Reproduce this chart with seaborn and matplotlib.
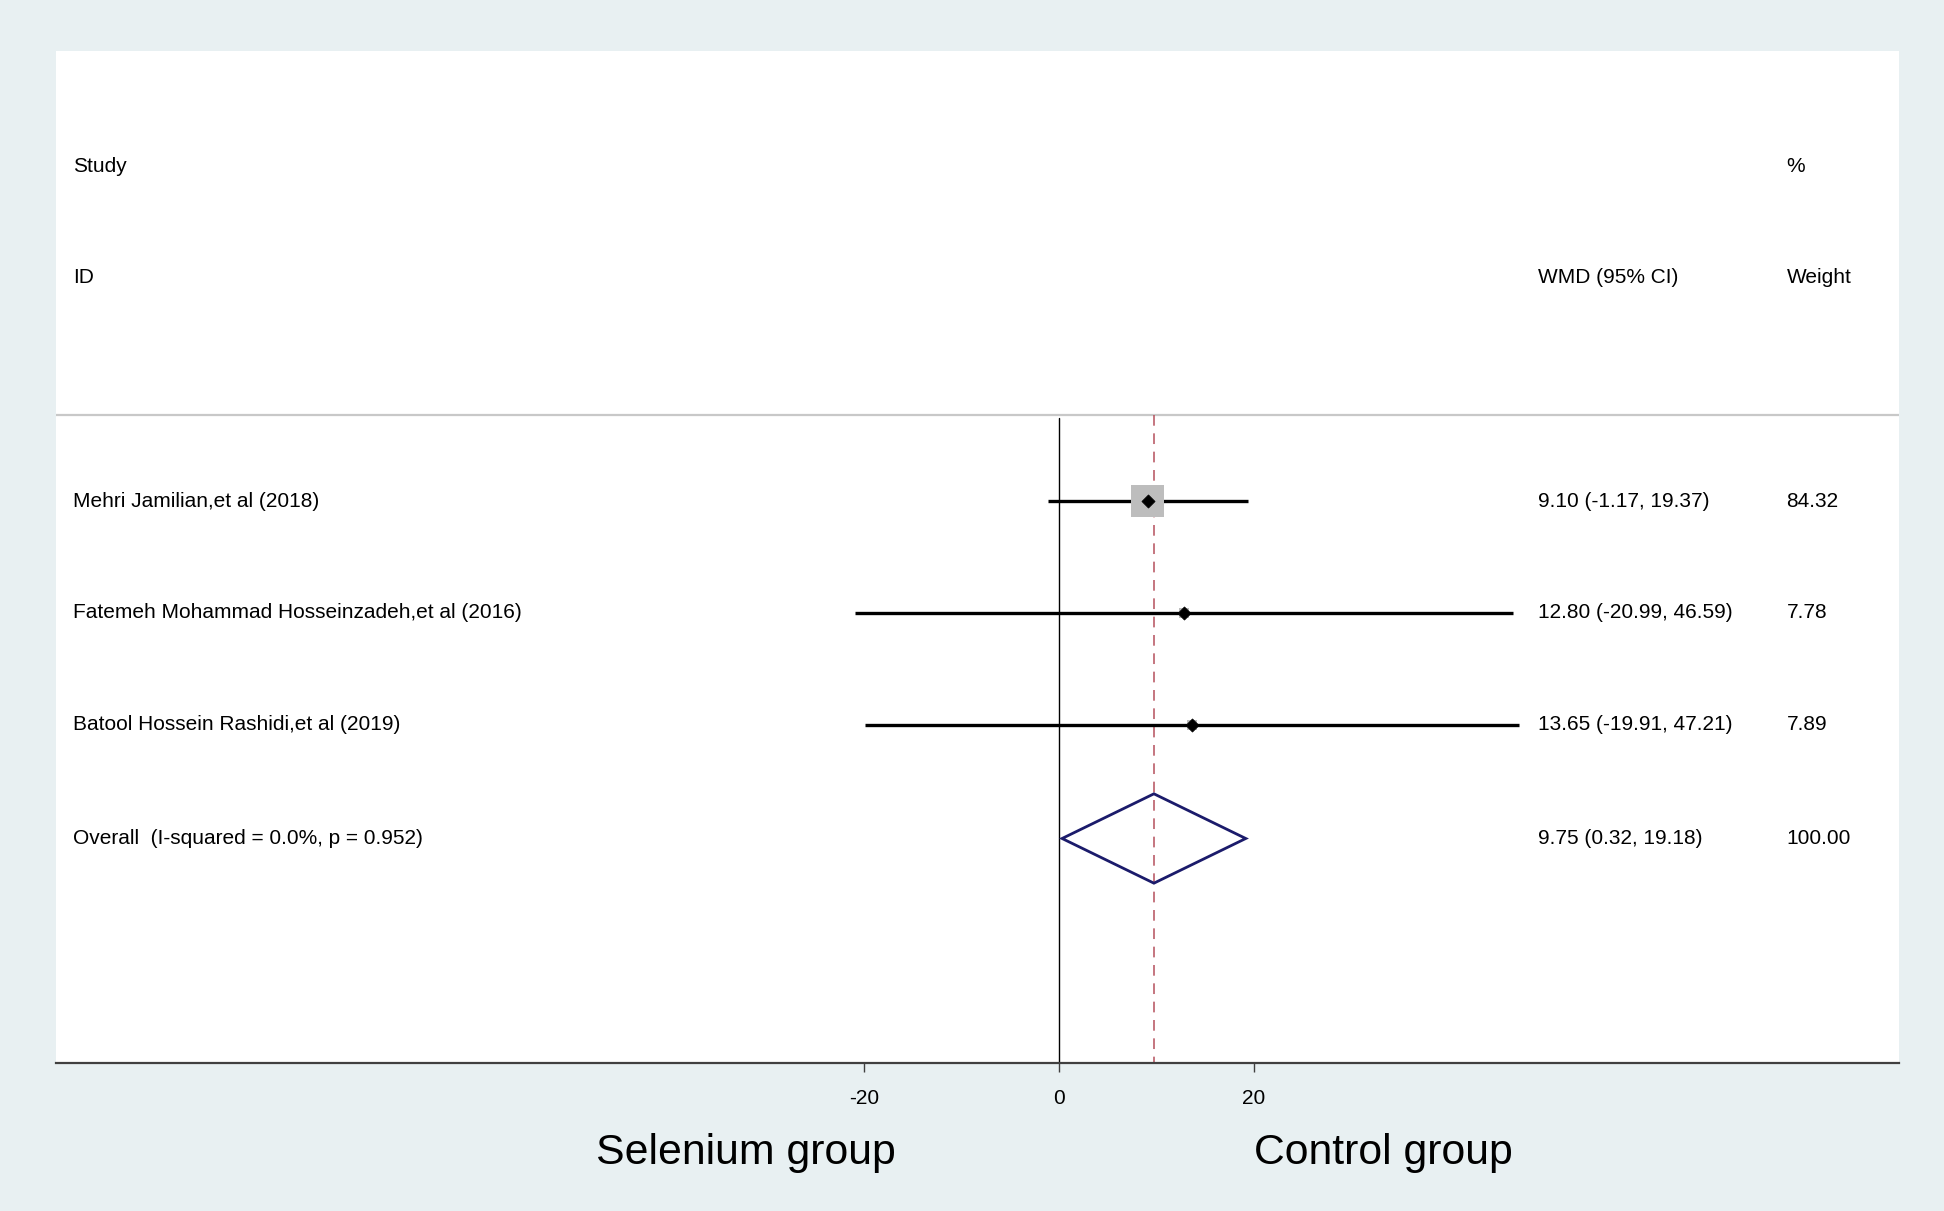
import numpy as np
import pandas as pd
import matplotlib
matplotlib.use("Agg")
import matplotlib.pyplot as plt
import seaborn as sns
from matplotlib.patches import Polygon

# data
studies = ["Mehri Jamilian,et al (2018)",
           "Fatemeh Mohammad Hosseinzadeh,et al (2016)",
           "Batool Hossein Rashidi,et al (2019)"]
wmd = [9.10, 12.80, 13.65]
lower = [-1.17, -20.99, -19.91]
upper = [19.37, 46.59, 47.21]
weights = [84.32, 7.78, 7.89]

overall_label = "Overall  (I-squared = 0.0%, p = 0.952)"
overall_wmd = 9.75
overall_lower = 0.32
overall_upper = 19.18
overall_weight = 100.00

xticks = [-20, 0, 20]

df = pd.DataFrame({"study": studies, "wmd": wmd, "lower": lower,
                   "upper": upper, "weight": weights})
df["row"] = np.arange(1, len(df) + 1)
overall_row = len(df) + 1.02

sns.set_style("white")
plt.rcParams["font.family"] = ["Liberation Sans", "DejaVu Sans"]
plt.rcParams["text.color"] = "black"
plt.rcParams["xtick.labelcolor"] = "black"
fs = 15

fig = plt.figure(figsize=(19.44, 12.11), dpi=100, facecolor="#E8F0F2")
ax = fig.add_axes([0.0287, 0.1222, 0.9479, 0.8357])
ax.set_facecolor("white")
ax.set_xlim(-103.0, 86.2)
ax.set_ylim(6.03, -3.03)

sep_y = 0.23

# header line
ax.axhline(sep_y, color="#C8C8C8", lw=1.6, zorder=1)

# no-effect line and overall estimate line
ax.plot([0, 0], [sep_y + 0.03, 6.03], color="black", lw=1.0, zorder=2)
ax.plot([overall_wmd, overall_wmd], [sep_y, 6.03], color="#B5505C", lw=1.1,
        dashes=(7, 5), zorder=2)

# confidence intervals
ax.hlines(df["row"], df["lower"], df["upper"], color="black", lw=2.4, zorder=3)

# weight squares (area proportional to weight)
sns.scatterplot(data=df, x="wmd", y="row", size="weight",
                sizes=(6.5 * min(weights), 6.5 * max(weights)),
                size_norm=(min(weights), max(weights)),
                marker="s", color="#BDBDBD", edgecolor="none",
                legend=False, ax=ax, zorder=4)
# point estimates
sns.scatterplot(data=df, x="wmd", y="row", marker="D", s=45, color="black",
                edgecolor="black", linewidth=0.5, legend=False, ax=ax, zorder=5)

# overall diamond
h = 0.4
diamond = Polygon([[overall_lower, overall_row], [overall_wmd, overall_row - h],
                   [overall_upper, overall_row], [overall_wmd, overall_row + h]],
                  closed=True, fill=False, edgecolor="#1B1B6B", lw=2.0, zorder=5)
ax.add_patch(diamond)

# text columns
x_lab, x_ci, x_w = -101.2, 49.2, 74.7
ax.text(x_lab, -2, "Study", fontsize=fs, va="center", ha="left")
ax.text(x_lab, -1, "ID", fontsize=fs, va="center", ha="left")
ax.text(x_ci, -1, "WMD (95% CI)", fontsize=fs, va="center", ha="left")
ax.text(x_w, -2, "%", fontsize=fs, va="center", ha="left")
ax.text(x_w, -1, "Weight", fontsize=fs, va="center", ha="left")

for _, r in df.iterrows():
    ax.text(x_lab, r["row"], r["study"], fontsize=fs, va="center", ha="left")
    ax.text(x_ci, r["row"], f"{r['wmd']:.2f} ({r['lower']:.2f}, {r['upper']:.2f})",
            fontsize=fs, va="center", ha="left")
    ax.text(x_w, r["row"], f"{r['weight']:.2f}", fontsize=fs, va="center", ha="left")

ax.text(x_lab, overall_row, overall_label, fontsize=fs, va="center", ha="left")
ax.text(x_ci, overall_row,
        f"{overall_wmd:.2f} ({overall_lower:.2f}, {overall_upper:.2f})",
        fontsize=fs, va="center", ha="left")
ax.text(x_w, overall_row, f"{overall_weight:.2f}", fontsize=fs, va="center", ha="left")

# axes styling
for side in ["top", "left", "right"]:
    ax.spines[side].set_visible(False)
ax.spines["bottom"].set_color("#404040")
ax.spines["bottom"].set_linewidth(1.6)
ax.set_yticks([])
ax.set_xticks(xticks)
ax.set_xticklabels([str(t) for t in xticks])
ax.tick_params(axis="x", direction="out", length=6.5, width=1.0, color="#404040",
               pad=12, labelsize=fs, bottom=True)
ax.set_xlabel("")
ax.set_ylabel("")

fig.text(746 / 1944, 1 - 1153 / 1211, "Selenium group", fontsize=30.8,
         ha="center", va="center")
fig.text(1383 / 1944, 1 - 1153 / 1211, "Control group", fontsize=30.8,
         ha="center", va="center")

fig.savefig("out.png", dpi=100, facecolor=fig.get_facecolor())
